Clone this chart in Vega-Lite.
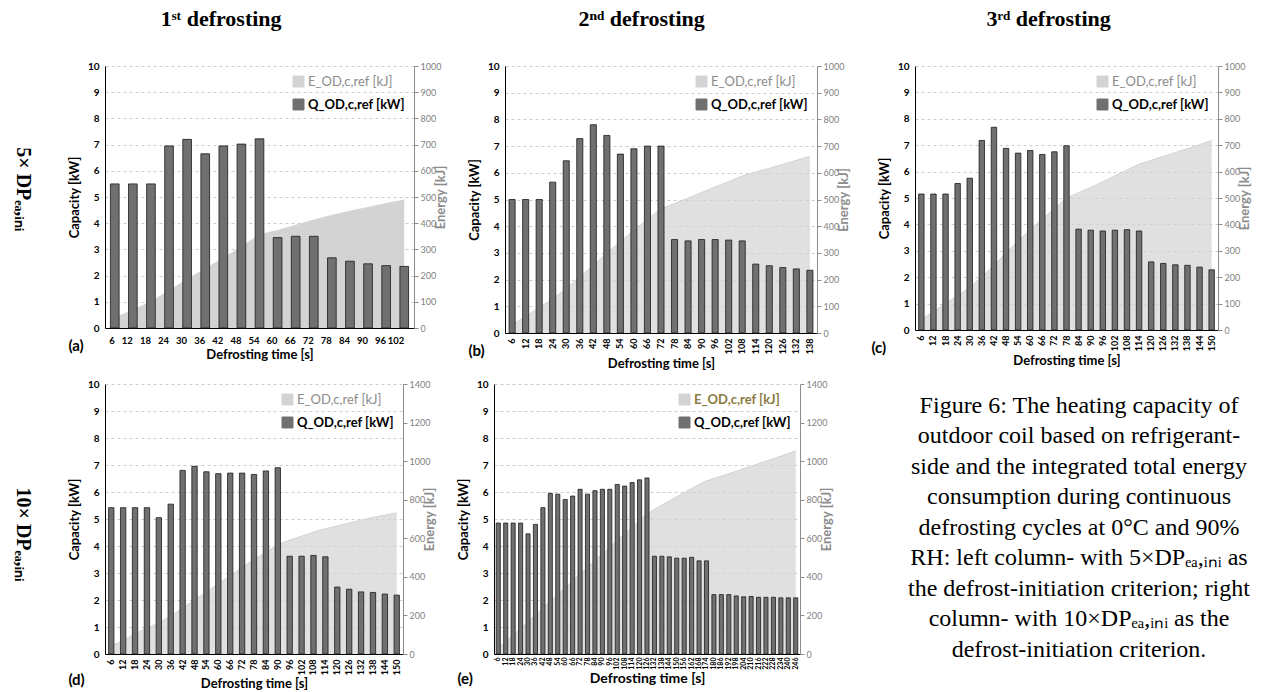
{
  "$schema": "https://vega.github.io/schema/vega-lite/v6.json",
  "background": "white",
  "padding": {"left": 13, "top": 8, "right": 0, "bottom": 0},
  "config": {
    "view": {"stroke": null},
    "font": "Lato",
    "axis": {"labelFont": "Lato", "titleFont": "Lato"},
    "legend": {"labelFont": "Lato"}
  },
  "datasets": {
    "a": [{"t":6,"Q":5.5,"E":38},{"t":12,"Q":5.5,"E":68},{"t":18,"Q":5.5,"E":100},{"t":24,"Q":6.95,"E":142},{"t":30,"Q":7.2,"E":186},{"t":36,"Q":6.65,"E":226},{"t":42,"Q":6.95,"E":266},{"t":48,"Q":7.02,"E":310},{"t":54,"Q":7.22,"E":356},{"t":60,"Q":3.45,"E":372},{"t":66,"Q":3.5,"E":392},{"t":72,"Q":3.5,"E":412},{"t":78,"Q":2.68,"E":430},{"t":84,"Q":2.55,"E":446},{"t":90,"Q":2.45,"E":460},{"t":96,"Q":2.38,"E":475},{"t":102,"Q":2.35,"E":488}],
    "b": [{"t":6,"Q":5.0,"E":30},{"t":12,"Q":5.0,"E":62},{"t":18,"Q":5.0,"E":95},{"t":24,"Q":5.65,"E":128},{"t":30,"Q":6.45,"E":166},{"t":36,"Q":7.28,"E":210},{"t":42,"Q":7.8,"E":252},{"t":48,"Q":7.4,"E":300},{"t":54,"Q":6.7,"E":342},{"t":60,"Q":6.9,"E":386},{"t":66,"Q":7.0,"E":426},{"t":72,"Q":7.0,"E":465},{"t":78,"Q":3.5,"E":485},{"t":84,"Q":3.45,"E":505},{"t":90,"Q":3.5,"E":526},{"t":96,"Q":3.5,"E":547},{"t":102,"Q":3.48,"E":567},{"t":108,"Q":3.45,"E":588},{"t":114,"Q":2.58,"E":603},{"t":120,"Q":2.52,"E":617},{"t":126,"Q":2.45,"E":632},{"t":132,"Q":2.4,"E":647},{"t":138,"Q":2.35,"E":662}],
    "c": [{"t":6,"Q":5.15,"E":40},{"t":12,"Q":5.15,"E":70},{"t":18,"Q":5.15,"E":100},{"t":24,"Q":5.55,"E":130},{"t":30,"Q":5.75,"E":162},{"t":36,"Q":7.18,"E":200},{"t":42,"Q":7.68,"E":245},{"t":48,"Q":6.88,"E":292},{"t":54,"Q":6.7,"E":336},{"t":60,"Q":6.8,"E":380},{"t":66,"Q":6.65,"E":420},{"t":72,"Q":6.75,"E":460},{"t":78,"Q":6.98,"E":500},{"t":84,"Q":3.82,"E":520},{"t":90,"Q":3.78,"E":540},{"t":96,"Q":3.75,"E":562},{"t":102,"Q":3.78,"E":584},{"t":108,"Q":3.8,"E":606},{"t":114,"Q":3.75,"E":628},{"t":120,"Q":2.58,"E":643},{"t":126,"Q":2.52,"E":658},{"t":132,"Q":2.47,"E":672},{"t":138,"Q":2.45,"E":687},{"t":144,"Q":2.38,"E":702},{"t":150,"Q":2.28,"E":718}],
    "d": [{"t":6,"Q":5.42,"E":42},{"t":12,"Q":5.42,"E":70},{"t":18,"Q":5.42,"E":105},{"t":24,"Q":5.42,"E":133},{"t":30,"Q":5.05,"E":162},{"t":36,"Q":5.55,"E":196},{"t":42,"Q":6.8,"E":238},{"t":48,"Q":6.95,"E":280},{"t":54,"Q":6.75,"E":322},{"t":60,"Q":6.68,"E":364},{"t":66,"Q":6.7,"E":406},{"t":72,"Q":6.7,"E":448},{"t":78,"Q":6.65,"E":490},{"t":84,"Q":6.78,"E":527},{"t":90,"Q":6.9,"E":568},{"t":96,"Q":3.62,"E":590},{"t":102,"Q":3.62,"E":611},{"t":108,"Q":3.65,"E":632},{"t":114,"Q":3.6,"E":650},{"t":120,"Q":2.48,"E":664},{"t":126,"Q":2.4,"E":679},{"t":132,"Q":2.3,"E":694},{"t":138,"Q":2.28,"E":708},{"t":144,"Q":2.22,"E":720},{"t":150,"Q":2.18,"E":732}],
    "e": [{"t":6,"Q":4.85,"E":32},{"t":12,"Q":4.85,"E":64},{"t":18,"Q":4.85,"E":97},{"t":24,"Q":4.85,"E":132},{"t":30,"Q":4.45,"E":168},{"t":36,"Q":4.8,"E":203},{"t":42,"Q":5.42,"E":238},{"t":48,"Q":5.95,"E":274},{"t":54,"Q":5.92,"E":309},{"t":60,"Q":5.72,"E":344},{"t":66,"Q":5.85,"E":379},{"t":72,"Q":6.1,"E":414},{"t":78,"Q":5.92,"E":449},{"t":84,"Q":6.05,"E":484},{"t":90,"Q":6.1,"E":519},{"t":96,"Q":6.1,"E":554},{"t":102,"Q":6.28,"E":589},{"t":108,"Q":6.22,"E":623},{"t":114,"Q":6.35,"E":658},{"t":120,"Q":6.45,"E":692},{"t":126,"Q":6.52,"E":726},{"t":132,"Q":3.62,"E":750},{"t":138,"Q":3.62,"E":772},{"t":144,"Q":3.6,"E":794},{"t":150,"Q":3.55,"E":815},{"t":156,"Q":3.55,"E":837},{"t":162,"Q":3.58,"E":858},{"t":168,"Q":3.45,"E":879},{"t":174,"Q":3.45,"E":898},{"t":180,"Q":2.2,"E":910},{"t":186,"Q":2.2,"E":922},{"t":192,"Q":2.2,"E":935},{"t":198,"Q":2.15,"E":948},{"t":204,"Q":2.12,"E":961},{"t":210,"Q":2.13,"E":974},{"t":216,"Q":2.1,"E":987},{"t":222,"Q":2.1,"E":1000},{"t":228,"Q":2.1,"E":1013},{"t":234,"Q":2.08,"E":1026},{"t":240,"Q":2.08,"E":1040},{"t":246,"Q":2.08,"E":1053}],
    "cap": [{"z": 0}]
  },
  "resolve": {"scale": {"color": "independent"}, "legend": {"color": "independent"}},
  "spacing": 7,
  "vconcat": [
    {
      "title": {"text": "5× DPₑₐ,ᵢₙᵢ", "orient": "left", "angle": 90, "font": "Liberation Serif", "fontSize": 20, "fontWeight": "bold", "color": "#000", "anchor": "middle", "offset": 15},
      "spacing": 20,
      "resolve": {"scale": {"color": "independent"}, "legend": {"color": "independent"}},
      "hconcat": [
        {
          "title": {"text": "1ˢᵗ defrosting", "font": "Liberation Serif", "fontSize": 22, "fontWeight": "bold", "color": "#000", "anchor": "middle", "offset": 30, "dx": -37},
          "resolve": {"scale": {"color": "independent"}, "legend": {"color": "independent"}},
          "vconcat": [
            {
              "width": 309, "height": 262,
              "data": {"name": "a"},
              "title": {"text": "(a)", "orient": "bottom", "anchor": "start", "dx": 0, "dy": -27, "fontSize": 15, "fontWeight": "bold", "font": "Lato", "color": "#000"},
              "resolve": {"scale": {"y": "independent"}},
              "layer": [
                {
                  "mark": {"type": "area", "line": {"color": "#8a8a8a", "strokeWidth": 1}, "opacity": 1},
                  "encoding": {
                    "x": {"field": "t", "type": "ordinal", "bandPosition": 0.5, "scale": {"type": "band", "paddingInner": 0.52, "paddingOuter": 0.3}},
                    "y": {"field": "E", "type": "quantitative", "scale": {"domain": [0, 1000]}, "axis": {"orient": "right", "title": "Energy [kJ]", "format": "d", "values": [0,100,200,300,400,500,600,700,800,900,1000], "grid": false, "domainColor": "#8c8c8c", "tickColor": "#8c8c8c", "tickSize": 4, "labelColor": "#7f7f7f", "labelFontSize": 9, "titleColor": "#8c8c8c", "titleFontSize": 13, "titleFontWeight": "bold", "titleAngle": 270, "titleBaseline": "top", "titlePadding": -6}},
                    "color": {"datum": "E_OD,c,ref [kJ]", "scale": {"domain": ["E_OD,c,ref [kJ]", "Q_OD,c,ref [kW]"], "range": ["#d3d3d3", "#707070"]}, "legend": {"title": null, "orient": "top-right", "offset": 9, "symbolType": "square", "symbolSize": 120, "symbolStrokeColor": "#555555", "symbolStrokeWidth": 1, "labelFontSize": 13, "rowPadding": 8, "labelOffset": 3, "encode": {"labels": {"update": {"fill": {"signal": "datum.label === 'Q_OD,c,ref [kW]' ? '#000000' : '#8c8c8c'"}, "fontWeight": {"signal": "datum.label === 'Q_OD,c,ref [kW]' ? 'bold' : 'normal'"}}}}}}
                  }
                },
                {
                  "mark": {"type": "bar", "stroke": "#1a1a1a", "strokeWidth": 0.8},
                  "encoding": {
                    "x": {"field": "t", "type": "ordinal", "scale": {"type": "band"}, "axis": {"title": "Defrosting time [s]", "labelAngle": 0, "labelFontWeight": "bold", "labelFontSize": 9.5, "labelColor": "#000", "ticks": false, "domainColor": "#000", "labelPadding": 12, "titleFontSize": 13, "titleFontWeight": "bold", "titleColor": "#000", "labelOverlap": false, "titlePadding": 4}},
                    "y": {"field": "Q", "type": "quantitative", "scale": {"domain": [0, 10]}, "axis": {"orient": "left", "title": "Capacity [kW]", "values": [0,1,2,3,4,5,6,7,8,9,10], "grid": true, "gridDash": [3,3], "gridColor": "#cccccc", "ticks": false, "domainColor": "#000", "labelFontWeight": "bold", "labelFontSize": 10, "labelColor": "#000", "titleFontSize": 13, "titleFontWeight": "bold", "titleColor": "#000", "titlePadding": 6, "labelPadding": 6}},
                    "color": {"datum": "Q_OD,c,ref [kW]"}
                  }
                }
              ]
            }
          ]
        },
        {
          "title": {"text": "2ⁿᵈ defrosting", "font": "Liberation Serif", "fontSize": 22, "fontWeight": "bold", "color": "#000", "anchor": "middle", "offset": 30, "dx": -18},
          "resolve": {"scale": {"color": "independent"}, "legend": {"color": "independent"}},
          "vconcat": [
            {
              "width": 312, "height": 267,
              "data": {"name": "b"},
              "title": {"text": "(b)", "orient": "bottom", "anchor": "start", "dx": 0, "dy": -31, "fontSize": 15, "fontWeight": "bold", "font": "Lato", "color": "#000"},
              "resolve": {"scale": {"y": "independent"}},
              "layer": [
                {
                  "mark": {"type": "area", "line": {"color": "#8a8a8a", "strokeWidth": 1}},
                  "encoding": {
                    "x": {"field": "t", "type": "ordinal", "bandPosition": 0.5, "scale": {"type": "band", "paddingInner": 0.55, "paddingOuter": 0.3}},
                    "y": {"field": "E", "type": "quantitative", "scale": {"domain": [0, 1000]}, "axis": {"orient": "right", "title": "Energy [kJ]", "format": "d", "values": [0,100,200,300,400,500,600,700,800,900,1000], "grid": false, "domainColor": "#8c8c8c", "tickColor": "#8c8c8c", "tickSize": 4, "labelColor": "#7f7f7f", "labelFontSize": 9, "titleColor": "#8c8c8c", "titleFontSize": 13, "titleFontWeight": "bold", "titleAngle": 270, "titleBaseline": "top", "titlePadding": -6}},
                    "color": {"datum": "E_OD,c,ref [kJ]", "scale": {"domain": ["E_OD,c,ref [kJ]", "Q_OD,c,ref [kW]"], "range": ["#d3d3d3", "#707070"]}, "legend": {"title": null, "orient": "top-right", "offset": 9, "symbolType": "square", "symbolSize": 120, "symbolStrokeColor": "#555555", "symbolStrokeWidth": 1, "labelFontSize": 13, "rowPadding": 8, "labelOffset": 3, "encode": {"labels": {"update": {"fill": {"signal": "datum.label === 'Q_OD,c,ref [kW]' ? '#000000' : '#8c8c8c'"}, "fontWeight": {"signal": "datum.label === 'Q_OD,c,ref [kW]' ? 'bold' : 'normal'"}}}}}}
                  }
                },
                {
                  "mark": {"type": "bar", "stroke": "#1a1a1a", "strokeWidth": 0.8},
                  "encoding": {
                    "x": {"field": "t", "type": "ordinal", "scale": {"type": "band"}, "axis": {"title": "Defrosting time [s]", "labelAngle": -90, "labelFontWeight": "bold", "labelFontSize": 9, "labelColor": "#000", "ticks": false, "domainColor": "#000", "labelPadding": 5, "titleFontSize": 13, "titleFontWeight": "bold", "titleColor": "#000", "labelOverlap": false, "titlePadding": 4}},
                    "y": {"field": "Q", "type": "quantitative", "scale": {"domain": [0, 10]}, "axis": {"orient": "left", "title": "Capacity [kW]", "values": [0,1,2,3,4,5,6,7,8,9,10], "grid": true, "gridDash": [3,3], "gridColor": "#cccccc", "ticks": false, "domainColor": "#000", "labelFontWeight": "bold", "labelFontSize": 10, "labelColor": "#000", "titleFontSize": 13, "titleFontWeight": "bold", "titleColor": "#000", "titlePadding": 6, "labelPadding": 6}},
                    "color": {"datum": "Q_OD,c,ref [kW]"}
                  }
                }
              ]
            }
          ]
        },
        {
          "title": {"text": "3ʳᵈ defrosting", "font": "Liberation Serif", "fontSize": 22, "fontWeight": "bold", "color": "#000", "anchor": "middle", "offset": 30, "dx": -13},
          "resolve": {"scale": {"color": "independent"}, "legend": {"color": "independent"}},
          "vconcat": [
            {
              "width": 303, "height": 264,
              "data": {"name": "c"},
              "title": {"text": "(c)", "orient": "bottom", "anchor": "start", "dx": -7, "dy": -31, "fontSize": 15, "fontWeight": "bold", "font": "Lato", "color": "#000"},
              "resolve": {"scale": {"y": "independent"}},
              "layer": [
                {
                  "mark": {"type": "area", "line": {"color": "#8a8a8a", "strokeWidth": 1}},
                  "encoding": {
                    "x": {"field": "t", "type": "ordinal", "bandPosition": 0.5, "scale": {"type": "band", "paddingInner": 0.55, "paddingOuter": 0.3}},
                    "y": {"field": "E", "type": "quantitative", "scale": {"domain": [0, 1000]}, "axis": {"orient": "right", "title": "Energy [kJ]", "format": "d", "values": [0,100,200,300,400,500,600,700,800,900,1000], "grid": false, "domainColor": "#8c8c8c", "tickColor": "#8c8c8c", "tickSize": 4, "labelColor": "#7f7f7f", "labelFontSize": 9, "titleColor": "#8c8c8c", "titleFontSize": 13, "titleFontWeight": "bold", "titleAngle": 270, "titleBaseline": "top", "titlePadding": -6}},
                    "color": {"datum": "E_OD,c,ref [kJ]", "scale": {"domain": ["E_OD,c,ref [kJ]", "Q_OD,c,ref [kW]"], "range": ["#d3d3d3", "#707070"]}, "legend": {"title": null, "orient": "top-right", "offset": 9, "symbolType": "square", "symbolSize": 120, "symbolStrokeColor": "#555555", "symbolStrokeWidth": 1, "labelFontSize": 13, "rowPadding": 8, "labelOffset": 3, "encode": {"labels": {"update": {"fill": {"signal": "datum.label === 'Q_OD,c,ref [kW]' ? '#000000' : '#8c8c8c'"}, "fontWeight": {"signal": "datum.label === 'Q_OD,c,ref [kW]' ? 'bold' : 'normal'"}}}}}}
                  }
                },
                {
                  "mark": {"type": "bar", "stroke": "#1a1a1a", "strokeWidth": 0.8},
                  "encoding": {
                    "x": {"field": "t", "type": "ordinal", "scale": {"type": "band"}, "axis": {"title": "Defrosting time [s]", "labelAngle": -90, "labelFontWeight": "bold", "labelFontSize": 9, "labelColor": "#000", "ticks": false, "domainColor": "#000", "labelPadding": 5, "titleFontSize": 13, "titleFontWeight": "bold", "titleColor": "#000", "labelOverlap": false, "titlePadding": 4}},
                    "y": {"field": "Q", "type": "quantitative", "scale": {"domain": [0, 10]}, "axis": {"orient": "left", "title": "Capacity [kW]", "values": [0,1,2,3,4,5,6,7,8,9,10], "grid": true, "gridDash": [3,3], "gridColor": "#cccccc", "ticks": false, "domainColor": "#000", "labelFontWeight": "bold", "labelFontSize": 10, "labelColor": "#000", "titleFontSize": 13, "titleFontWeight": "bold", "titleColor": "#000", "titlePadding": 6, "labelPadding": 6}},
                    "color": {"datum": "Q_OD,c,ref [kW]"}
                  }
                }
              ]
            }
          ]
        }
      ]
    },
    {
      "title": {"text": "10× DPₑₐ,ᵢₙᵢ", "orient": "left", "angle": 90, "font": "Liberation Serif", "fontSize": 20, "fontWeight": "bold", "color": "#000", "anchor": "middle", "offset": 15},
      "spacing": 20,
      "resolve": {"scale": {"color": "independent"}, "legend": {"color": "independent"}},
      "hconcat": [
        {
          "width": 298, "height": 270,
          "data": {"name": "d"},
          "title": {"text": "(d)", "orient": "bottom", "anchor": "start", "dx": 0, "dy": -22, "fontSize": 15, "fontWeight": "bold", "font": "Lato", "color": "#000"},
          "resolve": {"scale": {"y": "independent"}},
          "layer": [
            {
              "mark": {"type": "area", "line": {"color": "#8a8a8a", "strokeWidth": 1}},
              "encoding": {
                "x": {"field": "t", "type": "ordinal", "bandPosition": 0.5, "scale": {"type": "band", "paddingInner": 0.55, "paddingOuter": 0.3}},
                "y": {"field": "E", "type": "quantitative", "scale": {"domain": [0, 1400]}, "axis": {"orient": "right", "title": "Energy [kJ]", "format": "d", "values": [0,200,400,600,800,1000,1200,1400], "grid": false, "domainColor": "#8c8c8c", "tickColor": "#8c8c8c", "tickSize": 4, "labelColor": "#7f7f7f", "labelFontSize": 9, "titleColor": "#8c8c8c", "titleFontSize": 13, "titleFontWeight": "bold", "titleAngle": 270, "titleBaseline": "top", "titlePadding": -6}},
                "color": {"datum": "E_OD,c,ref [kJ]", "scale": {"domain": ["E_OD,c,ref [kJ]", "Q_OD,c,ref [kW]"], "range": ["#d3d3d3", "#707070"]}, "legend": {"title": null, "orient": "top-right", "offset": 9, "symbolType": "square", "symbolSize": 120, "symbolStrokeColor": "#555555", "symbolStrokeWidth": 1, "labelFontSize": 13, "rowPadding": 8, "labelOffset": 3, "encode": {"labels": {"update": {"fill": {"signal": "datum.label === 'Q_OD,c,ref [kW]' ? '#000000' : '#8c8c8c'"}, "fontWeight": {"signal": "datum.label === 'Q_OD,c,ref [kW]' ? 'bold' : 'normal'"}}}}}}
              }
            },
            {
              "mark": {"type": "bar", "stroke": "#1a1a1a", "strokeWidth": 0.8},
              "encoding": {
                "x": {"field": "t", "type": "ordinal", "scale": {"type": "band"}, "axis": {"title": "Defrosting time [s]", "labelAngle": -90, "labelFontWeight": "bold", "labelFontSize": 9, "labelColor": "#000", "ticks": false, "domainColor": "#000", "labelPadding": 5, "titleFontSize": 13, "titleFontWeight": "bold", "titleColor": "#000", "labelOverlap": false, "titlePadding": 3}},
                "y": {"field": "Q", "type": "quantitative", "scale": {"domain": [0, 10]}, "axis": {"orient": "left", "title": "Capacity [kW]", "values": [0,1,2,3,4,5,6,7,8,9,10], "grid": true, "gridDash": [3,3], "gridColor": "#cccccc", "ticks": false, "domainColor": "#000", "labelFontWeight": "bold", "labelFontSize": 10, "labelColor": "#000", "titleFontSize": 13, "titleFontWeight": "bold", "titleColor": "#000", "titlePadding": 6, "labelPadding": 6}},
                "color": {"datum": "Q_OD,c,ref [kW]"}
              }
            }
          ]
        },
        {
          "width": 306, "height": 270,
          "data": {"name": "e"},
          "title": {"text": "(e)", "orient": "bottom", "anchor": "start", "dx": 0, "dy": -17, "fontSize": 15, "fontWeight": "bold", "font": "Lato", "color": "#000"},
          "resolve": {"scale": {"y": "independent"}},
          "layer": [
            {
              "mark": {"type": "area", "line": {"color": "#8a8a8a", "strokeWidth": 1}},
              "encoding": {
                "x": {"field": "t", "type": "ordinal", "bandPosition": 0.5, "scale": {"type": "band", "paddingInner": 0.45, "paddingOuter": 0.3}},
                "y": {"field": "E", "type": "quantitative", "scale": {"domain": [0, 1400]}, "axis": {"orient": "right", "title": "Energy [kJ]", "format": "d", "values": [0,200,400,600,800,1000,1200,1400], "grid": false, "domainColor": "#8c8c8c", "tickColor": "#8c8c8c", "tickSize": 4, "labelColor": "#7f7f7f", "labelFontSize": 9, "titleColor": "#8c8c8c", "titleFontSize": 13, "titleFontWeight": "bold", "titleAngle": 270, "titleBaseline": "top", "titlePadding": -6}},
                "color": {"datum": "E_OD,c,ref [kJ]", "scale": {"domain": ["E_OD,c,ref [kJ]", "Q_OD,c,ref [kW]"], "range": ["#d3d3d3", "#707070"]}, "legend": {"title": null, "orient": "top-right", "offset": 9, "symbolType": "square", "symbolSize": 120, "symbolStrokeColor": "#555555", "symbolStrokeWidth": 1, "labelFontSize": 13, "rowPadding": 8, "labelOffset": 3, "encode": {"labels": {"update": {"fill": {"signal": "datum.label === 'Q_OD,c,ref [kW]' ? '#000000' : '#8a7a40'"}, "fontWeight": {"signal": "'bold'"}}}}}}
              }
            },
            {
              "mark": {"type": "bar", "stroke": "#1a1a1a", "strokeWidth": 0.8},
              "encoding": {
                "x": {"field": "t", "type": "ordinal", "scale": {"type": "band"}, "axis": {"title": "Defrosting time [s]", "labelAngle": -90, "labelFontWeight": "bold", "labelFontSize": 7, "labelColor": "#000", "ticks": false, "domainColor": "#000", "labelPadding": 3, "titleFontSize": 14, "titleFontWeight": "bold", "titleColor": "#000", "labelOverlap": false, "titlePadding": 2}},
                "y": {"field": "Q", "type": "quantitative", "scale": {"domain": [0, 10]}, "axis": {"orient": "left", "title": "Capacity [kW]", "values": [0,1,2,3,4,5,6,7,8,9,10], "grid": true, "gridDash": [3,3], "gridColor": "#cccccc", "ticks": false, "domainColor": "#000", "labelFontWeight": "bold", "labelFontSize": 10, "labelColor": "#000", "titleFontSize": 13, "titleFontWeight": "bold", "titleColor": "#000", "titlePadding": 6, "labelPadding": 6}},
                "color": {"datum": "Q_OD,c,ref [kW]"}
              }
            }
          ]
        },
        {
          "width": 450, "height": 1,
          "data": {"name": "cap"},
          "title": {"text": ["Figure 6: The heating capacity of", "outdoor coil based on refrigerant-", "side and the integrated total energy", "consumption during continuous", "defrosting cycles at 0°C and 90%", "RH: left column- with 5×DPₑₐ,ᵢₙᵢ as", "the defrost-initiation criterion; right", "column- with 10×DPₑₐ,ᵢₙᵢ as the", "defrost-initiation criterion."], "orient": "bottom", "font": "Liberation Serif", "fontSize": 24, "fontWeight": "normal", "color": "#000", "anchor": "middle", "lineHeight": 30.5, "offset": 4},
          "mark": {"type": "text", "text": ""},
          "encoding": {}
        }
      ]
    }
  ]
}
